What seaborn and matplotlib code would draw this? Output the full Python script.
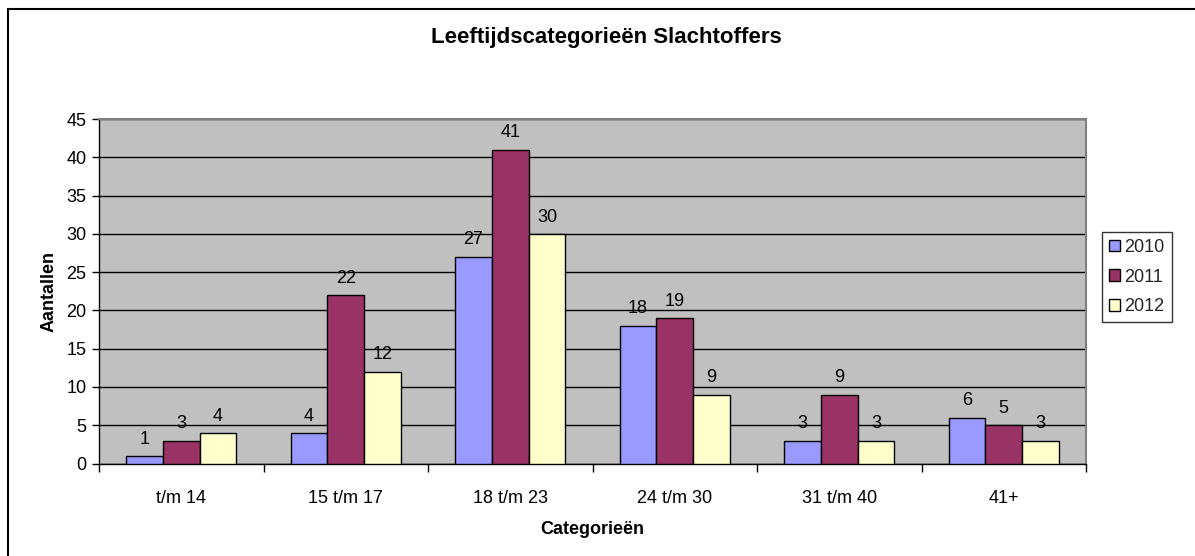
import matplotlib
matplotlib.use("Agg")
import matplotlib.pyplot as plt
import matplotlib.patches as mpatches
import seaborn as sns
import pandas as pd

categories = ["t/m 14", "15 t/m 17", "18 t/m 23", "24 t/m 30", "31 t/m 40", "41+"]
years = ["2010", "2011", "2012"]
v2010 = [1, 4, 27, 18, 3, 6]
v2011 = [3, 22, 41, 19, 9, 5]
v2012 = [4, 12, 30, 9, 3, 3]

rows = []
for y, vals in zip(years, [v2010, v2011, v2012]):
    for c, v in zip(categories, vals):
        rows.append({"Categorie": c, "Jaar": y, "Aantal": v})
df = pd.DataFrame(rows)

sns.set_theme(style="white")
plt.rcParams["font.family"] = ["Liberation Sans", "DejaVu Sans"]

FS = 13

fig = plt.figure(figsize=(11.95, 5.56), dpi=100)
ax = fig.add_axes([99/1195, 1 - 463.5/556, 987/1195, 344.5/556])

palette = {"2010": "#9999FF", "2011": "#993366", "2012": "#FFFFCC"}
sns.barplot(data=df, x="Categorie", y="Aantal", hue="Jaar", order=categories,
            hue_order=years, palette=palette, width=0.67, edgecolor="black",
            linewidth=1.0, saturation=1, ax=ax, zorder=3)

for cont in ax.containers:
    ax.bar_label(cont, padding=6, fontsize=FS, color="black")

ax.set_facecolor("#C0C0C0")
ax.set_ylim(0, 45)
ax.set_yticks(range(0, 46, 5))
ax.set_xlim(-0.5, len(categories) - 0.5)
ax.yaxis.grid(True, color="black", linewidth=1.0, zorder=0)
ax.set_axisbelow(True)
for s in ["top", "right"]:
    ax.spines[s].set_color("#808080")
    ax.spines[s].set_linewidth(1.5)
ax.spines["left"].set_color("black")
ax.spines["bottom"].set_color("black")
ax.spines["left"].set_linewidth(1.0)
ax.spines["bottom"].set_linewidth(1.0)

ax.tick_params(axis="y", which="both", left=True, length=5, width=1, color="black",
               labelsize=FS, pad=4, labelcolor="black")
ax.tick_params(axis="x", which="major", bottom=False, labelsize=FS, pad=13,
               labelcolor="black")
ax.set_xticks(range(len(categories)), minor=False)
ax.set_xticks([i + 0.5 for i in range(-1, len(categories))], minor=True)
ax.tick_params(axis="x", which="minor", bottom=True, length=6, width=1, color="black")

ax.set_xlabel("Categorieën", fontsize=13, fontweight="bold", labelpad=10, color="black")
ax.set_ylabel("Aantallen", fontsize=13, fontweight="bold", labelpad=6, color="black")
fig.text(606/1195, 1 - 37/556, "Leeftijdscategorieën Slachtoffers", ha="center",
         va="center", fontsize=16, fontweight="bold", color="black")

leg = ax.legend(loc="center left", bbox_to_anchor=(1102/1195, 1 - 277/556),
                bbox_transform=fig.transFigure, frameon=True, fancybox=False,
                fontsize=FS, handlelength=0.6, handleheight=0.6, handletextpad=0.25,
                labelspacing=0.7, borderpad=0.4, borderaxespad=0, title=None)
leg.get_frame().set_edgecolor("black")
leg.get_frame().set_linewidth(1.0)
leg.get_frame().set_facecolor("white")

border = mpatches.Rectangle((8/1195, -0.2), 1.5, 1.2 - 9/556,
                            transform=fig.transFigure, fill=False,
                            edgecolor="black", linewidth=1.5, clip_on=False)
fig.patches.append(border)

fig.savefig("out.png", dpi=100, facecolor="white")
